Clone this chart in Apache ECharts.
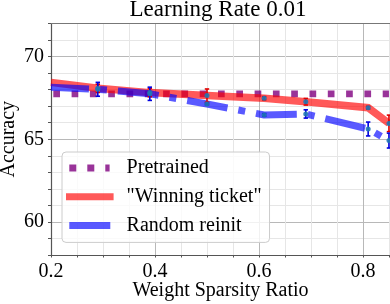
<!DOCTYPE html>
<html>
<head>
<meta charset="utf-8">
<script src="https://cdn.jsdelivr.net/npm/echarts@6/dist/echarts.min.js"></script>
<style>
html,body{margin:0;padding:0;background:#fff;}
#chart{width:390px;height:304px;}
</style>
</head>
<body>
<div id="chart"></div>
<script>
// ---- data ----
const titleText = 'Learning Rate 0.01';
const xName = 'Weight Sparsity Ratio';
const yName = 'Accuracy';
const seriesNames = ['Pretrained', '"Winning ticket"', 'Random reinit'];
const sparsity = [0.2, 0.29, 0.39, 0.50, 0.61, 0.69, 0.81, 0.85];
const pretrained = [67.75, 67.75, 67.75, 67.75, 67.75, 67.75, 67.75, 67.75];
const winning = [68.44, 68.08, 67.82, 67.64, 67.48, 67.27, 66.91, 65.96];
const winningErr = [0, 0.25, 0.25, 0.4, 0.1, 0.2, 0.08, 0.5];
const randomInit = [68.15, 68.02, 67.75, 67.13, 66.47, 66.53, 65.62, 64.92];
const randomErr = [0, 0.42, 0.4, 0.05, 0.08, 0.25, 0.42, 0.45];
const xTickLabels = [0.2, 0.4, 0.6, 0.8];
const yTickLabels = [60, 65, 70];

// ---- build ----
const FONT = 'Liberation Serif';
const pair = (xs, ys) => xs.map((x, i) => [x, ys[i]]);
const errData = (xs, ys, es) => xs.map((x, i) => [x, ys[i] - es[i], ys[i] + es[i], es[i]]).filter(d => d[3] > 0);
const markerData = (xs, ys) => xs.map((x, i) => [x, ys[i]]).slice(1);

const C_PUR = 'rgba(128,0,128,0.8)';
const C_RED = 'rgba(255,0,0,0.65)';
const C_BLUE = 'rgba(0,0,255,0.65)';
const MAJ = '#b8b8b8', MIN = '#e6e6e6';

function errRender(color) {
  return function (params, api) {
    const x = api.value(0);
    const p1 = api.coord([x, api.value(2)]);
    const p2 = api.coord([x, api.value(1)]);
    const w = 2.2;
    const st = { stroke: color, lineWidth: 1.6 };
    return {
      type: 'group',
      children: [
        { type: 'line', shape: { x1: p1[0], y1: p1[1], x2: p2[0], y2: p2[1] }, style: st },
        { type: 'line', shape: { x1: p1[0] - w, y1: p1[1], x2: p1[0] + w, y2: p1[1] }, style: st },
        { type: 'line', shape: { x1: p2[0] - w, y1: p2[1], x2: p2[0] + w, y2: p2[1] }, style: st }
      ]
    };
  };
}

const isMajorX = v => xTickLabels.some(t => Math.abs(t - v) < 1e-6);

const chart = echarts.init(document.getElementById('chart'), null, { renderer: 'canvas' });
chart.setOption({
  animation: false,
  backgroundColor: '#fff',
  textStyle: { fontFamily: FONT },
  title: {
    text: titleText, left: 218, textAlign: 'center', top: -2, padding: 0,
    textStyle: { fontFamily: FONT, fontSize: 23, fontWeight: 'normal', color: '#000' }
  },
  grid: { left: 51, right: 0, top: 23.5, bottom: 49, containLabel: false, outerBoundsMode: 'none' },
  legend: {
    orient: 'vertical', left: 62, top: 152,
    padding: [5, 8, 6, 4],
    itemWidth: 47.6, itemHeight: 7, itemGap: 6.7,
    symbolKeepAspect: false,
    backgroundColor: 'rgba(255,255,255,0.8)', borderColor: '#cccccc', borderWidth: 1, borderRadius: 4,
    textStyle: { fontFamily: FONT, fontSize: 20, color: '#000', lineHeight: 22, padding: [0, 0, 0, 8] },
    data: [
      { name: seriesNames[0], icon: 'path://M3.3,0H10.3V7H3.3Z M21.3,0H28.3V7H21.3Z M39.3,0H43.6V7H39.3Z M0,0L0,7L0,0Z M47.6,0L47.6,7L47.6,0Z', itemStyle: { color: C_PUR } },
      { name: seriesNames[1], icon: 'rect', itemStyle: { color: C_RED } },
      { name: seriesNames[2], icon: 'path://M3.3,0H44.3V7H3.3Z M0,0L0,7L0,0Z M47.6,0L47.6,7L47.6,0Z', itemStyle: { color: C_BLUE } }
    ]
  },
  xAxis: [{
    type: 'value', min: 0.2, max: 0.852, interval: 0.05,
    name: xName, nameLocation: 'middle', nameGap: 26, nameMoveOverlap: false,
    nameTextStyle: { fontFamily: FONT, fontSize: 20, color: '#000' },
    axisLine: { show: true, onZero: false, lineStyle: { color: '#555', width: 1.2 } },
    axisTick: { show: true, inside: false, length: 2.5, lineStyle: { color: '#555' } },
    axisLabel: {
      fontFamily: FONT, fontSize: 20, color: '#000', margin: 7, showMaxLabel: false,
      formatter: v => isMajorX(v) ? v.toFixed(1) : ''
    },
    splitLine: { show: true, lineStyle: { color: [MAJ, MIN, MIN, MIN], width: 1 } }
  }, {
    type: 'value', min: 0.2, max: 0.852, position: 'top',
    axisLine: { show: true, onZero: false, lineStyle: { color: '#777', width: 1.2 } },
    axisTick: { show: false }, axisLabel: { show: false }, splitLine: { show: false }
  }],
  yAxis: {
    type: 'value', min: 58, max: 72, interval: 1,
    name: yName, nameLocation: 'middle', nameGap: 32, nameRotate: 90, nameMoveOverlap: false,
    nameTextStyle: { fontFamily: FONT, fontSize: 20, color: '#000' },
    axisLine: { show: true, onZero: false, lineStyle: { color: '#555', width: 1.2 } },
    axisTick: { show: true, inside: false, length: 3, lineStyle: { color: '#555' } },
    axisLabel: {
      fontFamily: FONT, fontSize: 20, color: '#000', margin: 7,
      formatter: v => yTickLabels.indexOf(v) >= 0 ? String(v) : ''
    },
    splitLine: { show: true, lineStyle: { color: [MIN, MIN, MAJ, MIN, MIN], width: 1 } }
  },
  series: [
    {
      name: seriesNames[0], type: 'line', data: pair(sparsity, pretrained), symbol: 'none', z: 2,
      itemStyle: { color: C_PUR },
      lineStyle: { color: C_PUR, width: 6.7, type: [6.7, 11.6], dashOffset: 16, cap: 'butt' }
    },
    {
      name: seriesNames[1], type: 'line', data: pair(sparsity, winning), symbol: 'none', z: 3,
      itemStyle: { color: C_RED },
      lineStyle: { color: C_RED, width: 7.5, cap: 'butt', join: 'miter' }
    },
    {
      name: seriesNames[2], type: 'line', data: pair(sparsity, randomInit), symbol: 'none', z: 4,
      itemStyle: { color: C_BLUE },
      lineStyle: { color: C_BLUE, width: 7, type: [41, 11, 7, 11], dashOffset: 3, cap: 'butt' }
    },
    { type: 'custom', name: 'errW', data: errData(sparsity, winning, winningErr), renderItem: errRender('#e00000'), z: 5, silent: true },
    { type: 'custom', name: 'errR', data: errData(sparsity, randomInit, randomErr), renderItem: errRender('#0000e0'), z: 5, silent: true },
    { type: 'scatter', name: 'mW', data: markerData(sparsity, winning), symbolSize: 5, itemStyle: { color: '#1f77b4', opacity: 0.9 }, z: 6, silent: true },
    { type: 'scatter', name: 'mR', data: markerData(sparsity, randomInit), symbolSize: 5, itemStyle: { color: '#1f77b4', opacity: 0.9 }, z: 6, silent: true }
  ]
});
</script>
</body>
</html>
